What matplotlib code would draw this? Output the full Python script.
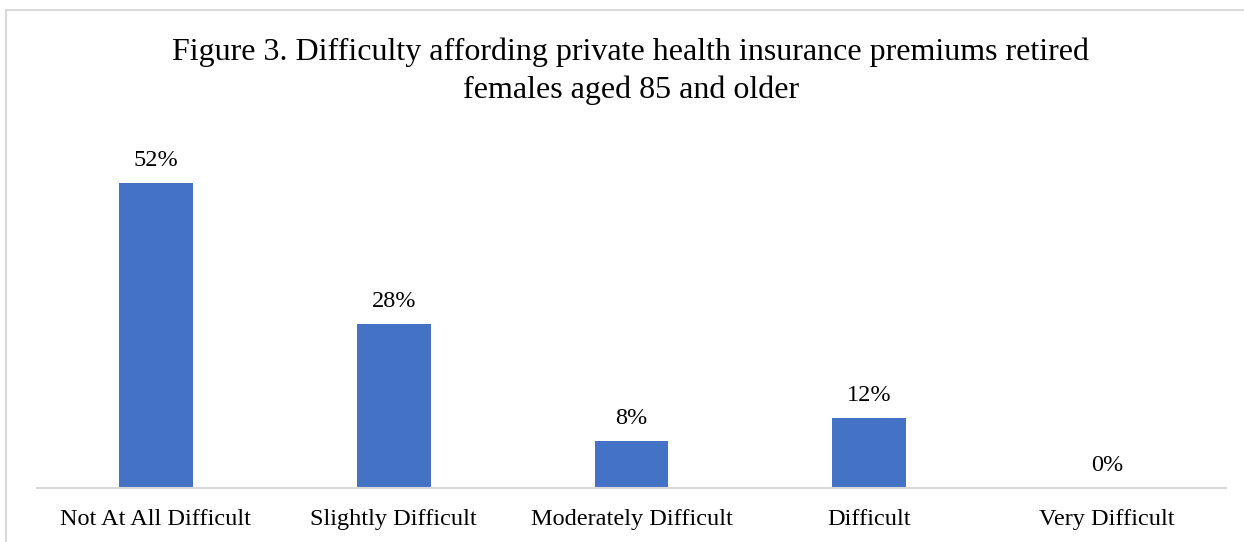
import matplotlib.pyplot as plt
from matplotlib.patches import Rectangle

categories = ["Not At All Difficult", "Slightly Difficult", "Moderately Difficult",
              "Difficult", "Very Difficult"]
percent = [52, 28, 8, 12, 0]
title = ("Figure 3. Difficulty affording private health insurance premiums retired\n"
         "females aged 85 and older")

plt.rcParams['font.family'] = ['Liberation Serif', 'DejaVu Serif']

W, H = 1244, 542
fig = plt.figure(figsize=(W / 100, H / 100), dpi=100)

# thin grey frame around the chart area
fig.patches.append(Rectangle((6 / W, -0.1), 1.2, 1.1 - 10 / H,
                             transform=fig.transFigure, fill=False,
                             edgecolor='#d9d9d9', linewidth=1.5))

# plot area in pixel terms
left, right, bottom, top = 37, 1226, 488, 136
ax = fig.add_axes([left / W, 1 - bottom / H, (right - left) / W, (bottom - top) / H])

x = range(len(categories))
bars = ax.bar(x, percent, width=0.31, color='#4472C4')
for b, v in zip(bars, percent):
    ax.text(b.get_x() + b.get_width() / 2, v + 2.85, f"{v}%",
            ha='center', va='baseline', fontsize=17.5)

ax.set_xlim(-0.5, len(categories) - 0.5)
ax.set_ylim(0, 60)
ax.set_xticks(list(x))
ax.set_xticklabels(categories, fontsize=17.5)
ax.tick_params(axis='x', length=0, pad=15)
ax.set_yticks([])
for s in ['left', 'right', 'top']:
    ax.spines[s].set_visible(False)
ax.spines['bottom'].set_color('#d9d9d9')
ax.spines['bottom'].set_linewidth(1.5)

fig.text(631 / W, 1 - 71 / H, title, ha='center', va='center',
         fontsize=23, linespacing=1.36)

fig.savefig("out.png", dpi=100)
